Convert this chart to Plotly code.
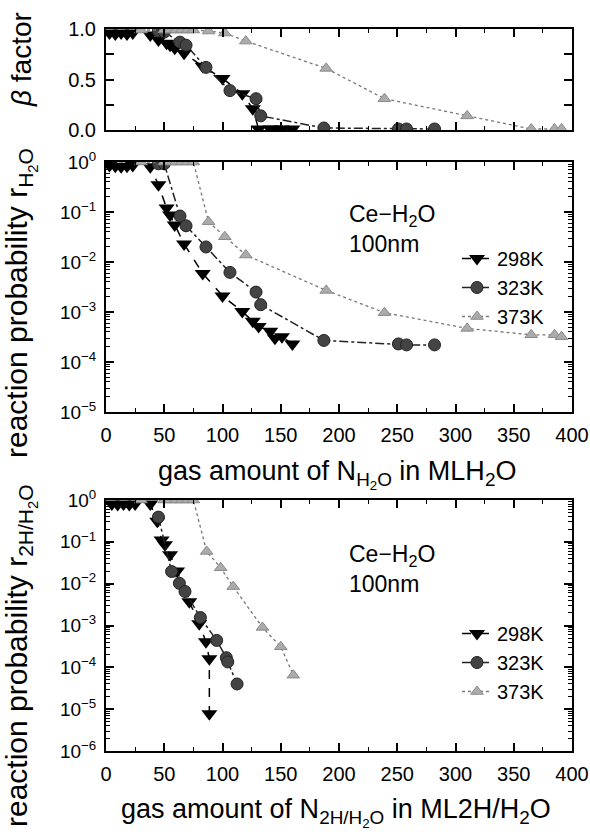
import plotly.graph_objects as go

# ---------------- data ----------------
# top panel: beta factor vs gas amount N_H2O
x298 = [3, 8, 13, 18, 23, 38, 45, 52, 55, 59, 67, 83, 100, 117, 126, 131, 141, 145, 151, 160]
beta298 = [0.96, 0.95, 0.96, 0.95, 0.96, 0.94, 0.89, 0.86, 0.84, 0.81, 0.76, 0.63, 0.51, 0.36, 0.21,
           0.01, 0.01, 0.01, 0.01, 0.01]
r298 = [0.85, 0.82, 0.80, 0.82, 0.85, 0.80, 0.35, 0.12, 0.087, 0.055, 0.023, 0.0059, 0.0021,
        0.00102, 0.00065, 0.00051, 0.00041, 0.00030, 0.00032, 0.00023]

x323 = [45, 50, 63.5, 68.7, 85.8, 106.4, 128.8, 132.8, 187, 251, 258, 282]
beta323 = [0.98, 0.97, 0.87, 0.84, 0.62, 0.39, 0.31, 0.14, 0.02, 0.01, 0.01, 0.01]
r323 = [0.92, 0.92, 0.083, 0.053, 0.020, 0.0062, 0.0025, 0.0014, 0.00027, 0.00023, 0.00022, 0.00022]

x373 = [30, 50, 55, 60, 65, 70, 75, 88, 102, 120, 189, 239, 310, 365, 385, 391]
beta373 = [0.99, 0.99, 0.99, 0.99, 0.99, 0.99, 0.99, 0.98, 0.96, 0.88, 0.61, 0.31, 0.14, 0.01, 0.01, 0.01]
r373 = [1.0, 1.0, 1.0, 1.0, 1.0, 1.0, 1.0, 0.064, 0.032, 0.0138, 0.0027, 0.00097, 0.00047,
        0.00035, 0.00035, 0.00032]

# bottom panel: r_2H/H2O vs gas amount N_2H/H2O
xb298 = [5, 10, 15, 20, 25, 38, 44, 47.7, 50.6, 55, 61, 71.5, 80, 85.8, 88.7, 88.7]
rb298 = [0.80, 0.78, 0.80, 0.78, 0.80, 0.80, 0.31, 0.11, 0.085, 0.049, 0.020, 0.0037, 0.0011,
         0.00041, 0.00016, 0.0000078]
xb323 = [45, 56.3, 63, 67.8, 81, 95, 103.3, 104.5, 112.5]
rb323 = [0.39, 0.0195, 0.0102, 0.0065, 0.00155, 0.00044, 0.00017, 0.000135, 0.00004]
xb373 = [30, 50, 55, 60, 65, 70, 75, 86.4, 98.4, 109.2, 134.3, 150, 160.8]
rb373 = [1.0, 1.0, 1.0, 1.0, 1.0, 1.0, 1.0, 0.059, 0.024, 0.0085, 0.00090, 0.00031, 0.000065]

series_names = ["298K", "323K", "373K"]
x_ticks = [0, 50, 100, 150, 200, 250, 300, 350, 400]
beta_ticks = [0.0, 0.5, 1.0]
beta_labels = ["0.0", "0.5", "1.0"]
mid_exps = [0, -1, -2, -3, -4, -5]
bot_exps = [0, -1, -2, -3, -4, -5, -6]

# ---------------- styles ----------------
W, H = 590, 840
FONT = "Liberation Sans, Arial, sans-serif"
styles = {
    "298K": dict(marker=dict(symbol="triangle-down", size=14, color="black"),
                 line=dict(color="black", width=1.5, dash="dash")),
    "323K": dict(marker=dict(symbol="circle", size=12, color="#444444",
                             line=dict(color="#222", width=1)),
                 line=dict(color="#222", width=1.5, dash="dashdot")),
    "373K": dict(marker=dict(symbol="triangle-up", size=11, color="#ababab",
                             line=dict(color="#8a8a8a", width=1)),
                 line=dict(color="#777", width=1.3, dash="dot")),
}


def fx(px):
    return px / W


def fy(py):
    return 1 - py / H


fig = go.Figure()

top = [(x298, beta298), (x323, beta323), (x373, beta373)]
mid = [(x298, r298), (x323, r323), (x373, r373)]
bot = [(xb298, rb298), (xb323, rb323), (xb373, rb373)]

for name, (xs, ys) in zip(series_names, top):
    fig.add_trace(go.Scatter(x=xs, y=ys, mode="lines+markers", name=name, showlegend=False,
                             xaxis="x", yaxis="y", **styles[name]))
for name, (xs, ys) in zip(series_names, mid):
    fig.add_trace(go.Scatter(x=xs, y=ys, mode="lines+markers", name=name, legend="legend",
                             xaxis="x2", yaxis="y2", **styles[name]))
for name, (xs, ys) in zip(series_names, bot):
    fig.add_trace(go.Scatter(x=xs, y=ys, mode="lines+markers", name=name, legend="legend2",
                             xaxis="x3", yaxis="y3", **styles[name]))

xdom = [fx(106), fx(572)]
ax_common = dict(showline=True, linewidth=2, linecolor="black", mirror="ticks", ticks="inside",
                 ticklen=8, tickwidth=1.5, tickcolor="black", showgrid=False, zeroline=False,
                 automargin=False, ticklabelstandoff=4,
                 tickfont=dict(family=FONT, size=20, color="black"))
xax = dict(ax_common, range=[0, 400], tickvals=x_ticks,
           minor=dict(dtick=25, tick0=0, ticks="inside", ticklen=4, tickwidth=1.2, tickcolor="black"))


def log_axis(exps, dom):
    labels = ["10<sup>%s</sup>" % (str(e).replace("-", "\u2212")) for e in exps]
    lo = min(exps)
    minor_vals = [k * 10.0 ** e for e in range(lo, 0) for k in range(2, 10)]
    d = dict(ax_common, type="log", range=[lo, 0], domain=dom,
             tickvals=[10.0 ** e for e in exps], ticktext=labels,
             minor=dict(tickmode="array", tickvals=minor_vals, ticks="inside", ticklen=4,
                        tickwidth=1, tickcolor="black"))
    d["tickfont"] = dict(family=FONT, size=19, color="black")
    return d


fig.update_layout(
    template="none",
    width=W, height=H, margin=dict(l=0, r=0, t=0, b=0, autoexpand=False),
    paper_bgcolor="white", plot_bgcolor="white",
    font=dict(family=FONT, color="black"),
    xaxis=dict(xax, domain=xdom, anchor="y", showticklabels=False),
    yaxis=dict(ax_common, range=[0, 1.0], domain=[fy(130), fy(29)], anchor="x",
               tickvals=beta_ticks, ticktext=beta_labels,
               minor=dict(dtick=0.25, tick0=0, ticks="inside", ticklen=8, tickwidth=1.5,
                          tickcolor="black")),
    xaxis2=dict(xax, domain=xdom, anchor="y2"),
    yaxis2=dict(log_axis(mid_exps, [fy(412), fy(162)]), anchor="x2"),
    xaxis3=dict(xax, domain=xdom, anchor="y3"),
    yaxis3=dict(log_axis(bot_exps, [fy(751), fy(500)]), anchor="x3"),
    legend=dict(x=fx(457), y=fy(239), xanchor="left", yanchor="top", bgcolor="rgba(0,0,0,0)",
                font=dict(family=FONT, size=20), tracegroupgap=0, borderwidth=0),
    legend2=dict(x=fx(457), y=fy(614), xanchor="left", yanchor="top", bgcolor="rgba(0,0,0,0)",
                 font=dict(family=FONT, size=20), tracegroupgap=0, borderwidth=0),
    showlegend=True,
)

ann = [
    dict(text="<i>\u03b2</i> factor", x=fx(22), y=fy(60), textangle=-90, size=28),
    dict(text="reaction probability r<sub>H<sub>2</sub>O</sub>", x=fx(20), y=fy(303), textangle=-90, size=30),
    dict(text="reaction probability r<sub>2H/H<sub>2</sub>O</sub>", x=fx(20), y=fy(656), textangle=-90, size=30),
    dict(text="gas amount of N<sub>H<sub>2</sub>O</sub> in MLH<sub>2</sub>O", x=fx(337), y=fy(474), size=27),
    dict(text="gas amount of N<sub>2H/H<sub>2</sub>O</sub> in ML2H/H<sub>2</sub>O", x=fx(336), y=fy(812), size=27),
]
for a in ann:
    size = a.pop("size")
    fig.add_annotation(xref="paper", yref="paper", showarrow=False,
                       font=dict(family=FONT, size=size, color="black"),
                       xanchor="center", yanchor="middle", **a)

for py in (229, 569):
    fig.add_annotation(xref="paper", yref="paper", showarrow=False,
                       font=dict(family=FONT, size=23, color="black"), align="left",
                       text="Ce\u2212H<sub>2</sub>O<br>100nm", x=fx(347), y=fy(py),
                       xanchor="left", yanchor="middle")

fig.write_html("out.html", config={"displayModeBar": False},
               post_script="document.body.style.margin='0px';document.body.style.overflow='hidden';")
